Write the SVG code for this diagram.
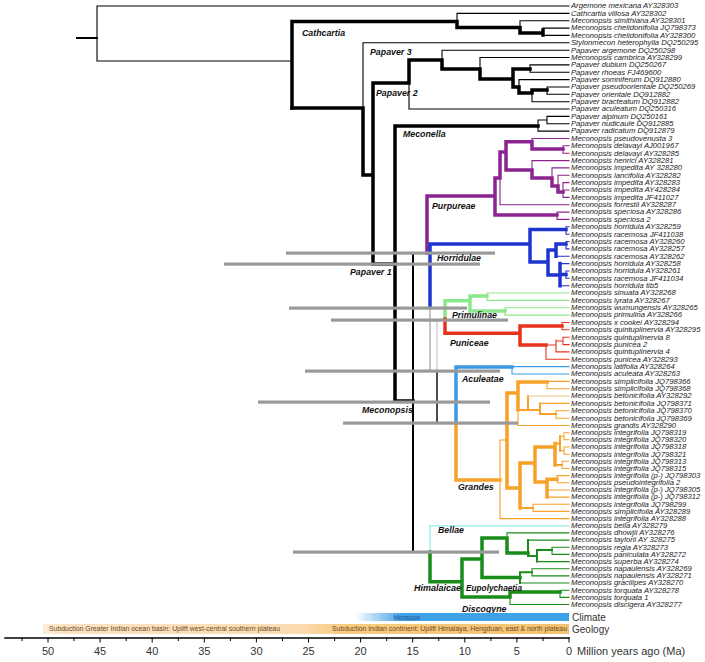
<svg xmlns="http://www.w3.org/2000/svg" width="705" height="662" viewBox="0 0 705 662">
<defs>
<style>
path{fill:none;stroke-linecap:square}
.k4{stroke:#000;stroke-width:3.5}
.k2{stroke:#000;stroke-width:2}
.k1{stroke:#000;stroke-width:1.1}
.p4{stroke:#8b2490;stroke-width:3.5}
.p1{stroke:#8b2490;stroke-width:1.1}
.b4{stroke:#1f35d0;stroke-width:3.5}
.b1{stroke:#1f35d0;stroke-width:1.1}
.g4{stroke:#8ce88c;stroke-width:3.5}
.g1{stroke:#8ce88c;stroke-width:1.1}
.r4{stroke:#e8321e;stroke-width:3.5}
.r1{stroke:#e8321e;stroke-width:1.1}
.a4{stroke:#3b9be6;stroke-width:3.5}
.a1{stroke:#3b9be6;stroke-width:1.1}
.o4{stroke:#f7a128;stroke-width:3.5}
.o2{stroke:#f7a128;stroke-width:2}
.o1{stroke:#f7a128;stroke-width:1.1}
.pe{stroke:#f3cf9c;stroke-width:1.1}
.c1{stroke:#a8f0f0;stroke-width:1.5}
.h4{stroke:#1a8c1a;stroke-width:3.5}
.h2{stroke:#1a8c1a;stroke-width:2}
.h1{stroke:#1a8c1a;stroke-width:1.1}
.bar{fill:#999}
.leaf{font-family:"Liberation Sans",Arial,sans-serif;font-style:italic;font-size:6.4px;fill:#222}
.clade{font-family:"Liberation Sans",Arial,sans-serif;font-style:italic;font-weight:bold;font-size:8.8px;fill:#111}
.ax{font-family:"Liberation Sans",Arial,sans-serif;font-size:10px;fill:#333}
.num{font-family:"Liberation Sans",Arial,sans-serif;font-size:11px;fill:#333}
.tick{stroke:#000;stroke-width:1}
</style>
<linearGradient id="clim" gradientUnits="userSpaceOnUse" x1="355" y1="0" x2="569" y2="0">
<stop offset="0" stop-color="#3fa2e8" stop-opacity="0"/>
<stop offset="0.22" stop-color="#3fa2e8" stop-opacity="1"/>
<stop offset="1" stop-color="#3fa2e8"/>
</linearGradient>
<linearGradient id="geo" gradientUnits="userSpaceOnUse" x1="43" y1="0" x2="569" y2="0">
<stop offset="0" stop-color="#fdeedd"/>
<stop offset="0.04" stop-color="#fce2c2"/>
<stop offset="0.48" stop-color="#fbdcb2"/>
<stop offset="0.58" stop-color="#f8c97f"/>
<stop offset="1" stop-color="#f6c270"/>
</linearGradient>
</defs>
<rect width="705" height="662" fill="#fff"/>

<g id="connectors">
<g id="root">
<path class="k2" d="M77 38H97"/>
<path class="k1" d="M97 6V61 M97 6H569 M97 61H292"/>
</g>
<g id="cathcartia-clade">
<path class="k4" d="M292 21.5V108 M292 21.5H457 M457 21.5V27.5 M457 27.5H520 M520 27.5V33 M520 33H543 M543 30V35"/>
<path class="k1" d="M457 13.4V21.5 M457 13.4H569 M520 20.7V27.5 M520 20.7H569 M543 28.1V35.4 M543 28.1H569 M543 35.4H569"/>
</g>
<g id="papaver-clade">
<path class="k4" d="M292 108H363 M363 108V175 M363 175H373 M373 83V264 M373 264H395 M373 83H409 M409 60V83 M409 60H442 M442 60V69 M442 69H480 M480 69V79 M480 79H513 M513 69V87 M513 69H530 M513 87H519 M519 87V93 M519 93H532 M532 90V93 M532 90H547"/>
<path class="k1" d="M363 42.8V108 M363 42.8H569 M409 83V109 M409 109H569 M442 50.2V60 M442 50.2H569 M480 57.5V69 M480 57.5H569 M530 64.9V72.2 M530 64.9H569 M530 72.2H569 M519 79.6V87 M519 79.6H569 M532 93V101.7 M532 101.7H569 M547 87V94.3 M547 87H569 M547 94.3H569"/>
</g>
<g id="meconella-clade">
<path class="k4" d="M395 126V401 M395 126H538 M395 401H413"/>
<path class="k1" d="M538 120V131.1 M538 131.1H569 M538 120H547 M547 116.4V123.8 M547 116.4H569 M547 123.8H569"/>
</g>
<g id="meconopsis-clade">
<path class="k2" d="M413 253V552 M413 253H427 M413 552H430"/>
<path d="M430 307V371 M430 371H437" stroke="#8a8a8a" stroke-width="1"/>
<path d="M437 321V372" stroke="#bbb" stroke-width="1"/>
<path d="M437 372V423 M437 423H456" stroke="#000" stroke-width="1.4"/>
</g>
<g id="purpureae">
<path class="p4" d="M427 196V253 M427 196H495 M495 178V215 M495 215H557 M495 178H500 M500 152V178 M500 152H506 M506 141.7V170 M506 141.7H532 M532 141.7V149 M532 149H563 M506 170H532 M532 170V178 M532 178H552 M552 178V186 M552 186H558 M558 186V192 M558 192H563"/>
<path class="p1" d="M500 178V204.7 M500 204.7H569 M557 212.1V219.4 M557 212.1H569 M557 219.4H569 M532 138.5V141.7 M532 138.5H569 M563 145.8V153.2 M563 145.8H569 M563 153.2H569 M532 160.6V170 M532 160.6H569 M552 167.9V178 M552 167.9H569 M558 175.3V186 M558 175.3H569 M563 182.6V197.4 M563 182.6H569 M563 190H569 M563 197.4H569"/>
</g>
<g id="horridulae">
<path class="b4" d="M430 244V307 M430 244H530 M530 229.5V262 M530 229.5H566 M530 262H548 M548 250V275 M548 250H556 M556 244V256.2 M556 244H566 M548 275H560 M560 263.6V285.7 M560 274.6H566"/>
<path class="b1" d="M566 226.8V234.2 M566 226.8H569 M566 234.2H569 M566 241.5V248.9 M566 241.5H569 M566 248.9H569 M556 256.2H569 M560 263.6H569 M566 271V278.3 M566 271H569 M566 278.3H569 M560 285.7H569"/>
</g>
<g id="primulinae">
<path class="g4" d="M445 300.7V319 M445 300.7H470 M470 296V311 M470 296H487 M470 311H505"/>
<path class="g1" d="M487 293V300.4 M487 293H569 M487 300.4H569 M505 307.8V315.1 M505 307.8H569 M505 315.1H569"/>
</g>
<g id="puniceae">
<path class="r4" d="M445 319V333.3 M445 333.3H520 M520 326V345 M520 326H562 M520 345H546"/>
<path class="r1" d="M562 322.5V329.8 M562 322.5H569 M562 329.8H569 M546 345V359.3 M546 359.3H569 M546 345H556 M556 340V351.9 M556 351.9H569 M556 341H563 M563 337.2V344.6 M563 337.2H569 M563 344.6H569"/>
</g>
<g id="aculeatae">
<path class="a4" d="M456 367V423 M456 367H512"/>
<path class="a1" d="M512 366.6V374 M512 366.6H569 M512 374H569"/>
</g>
<g id="grandes">
<path class="o4" d="M456 423V480 M456 480H500 M507 393V488 M507 393H518 M518 382V410 M518 382H547 M507 488H520 M520 463V508 M520 463H535 M535 447V482 M535 447H555 M555 443.5V464.9 M535 482H547 M547 479.2V497.1 M547 479.2H557"/>
<path class="o1" d="M500 440V518.6 M500 440H507 M500 518.6H569"/>
<path class="o2" d="M518 410H528 M528 396.1V410 M528 410H540 M540 403.4V414 M540 414H556 M520 508H533 M555 443.5H560 M560 436.3V450.6 M555 464.9H562"/>
<path class="pe" d="M528 396.1H569"/>
<path class="o1" d="M547 381.4V388.7 M547 381.4H569 M547 388.7H569 M540 403.4H569 M556 410.8V418.2 M556 410.8H569 M556 418.2H569 M518 410V425.5 M518 425.5H569 M560 436.3H564 M564 432.7V439.8 M564 432.7H569 M564 439.8H569 M560 450.6H564 M564 447V454.2 M564 447H569 M564 454.2H569 M562 461.3V468.5 M562 461.3H569 M562 468.5H569 M557 475.6V482.8 M557 475.6H569 M557 482.8H569 M547 490H569 M547 497.1H569 M533 504.3V511.4 M533 504.3H569 M533 511.4H569"/>
</g>
<g id="bellae">
<path class="c1" d="M430 525.8V552 M430 525.8H569"/>
</g>
<g id="himalaicae">
<path class="h4" d="M430 552V581.7 M430 581.7H462 M462 559V597 M462 559H482 M482 538V577.6 M482 538H507 M507 538V553 M507 553H528 M482 577.6H520 M462 597H510 M510 592V597 M510 592H560"/>
<path class="h2" d="M528 540.1V556 M528 556H537 M537 550V561.6 M537 550H552 M520 572.3V583 M520 572.3H532"/>
<path class="h1" d="M507 532.9V538 M507 532.9H569 M528 540.1H569 M552 547.2V554.4 M552 547.2H569 M552 554.4H569 M537 561.6H569 M532 568.7V575.9 M532 568.7H569 M532 575.9H569 M520 583H569 M560 590.2V597.4 M560 590.2H569 M560 597.4H569 M510 597V604.5 M510 604.5H569"/>
</g>
<g id="hpd-bars">
<rect class="bar" x="286" y="251.5" width="209" height="3.2"/>
<rect class="bar" x="224" y="262.5" width="256" height="3.2"/>
<rect class="bar" x="289" y="306.5" width="178" height="3.2"/>
<rect class="bar" x="331" y="318.5" width="177" height="3.2"/>
<rect class="bar" x="305" y="369.5" width="195" height="3.2"/>
<rect class="bar" x="258" y="400.5" width="232" height="3.2"/>
<rect class="bar" x="343" y="421.5" width="175" height="3.2"/>
<rect class="bar" x="293" y="550.5" width="206" height="3.2"/>
</g>
</g>

<g id="clade-labels" class="clade">
<text id="lb-cathcartia" x="302" y="36">Cathcartia</text>
<text id="lb-papaver3" x="370" y="55">Papaver 3</text>
<text id="lb-papaver2" x="376" y="96">Papaver 2</text>
<text id="lb-meconella" x="403" y="137">Meconella</text>
<text id="lb-papaver1" x="350" y="275">Papaver 1</text>
<text id="lb-meconopsis" x="362" y="413">Meconopsis</text>
<text id="lb-purpureae" x="432" y="209">Purpureae</text>
<text id="lb-horridulae" x="437" y="261">Horridulae</text>
<text id="lb-primulinae" x="452" y="318">Primulinae</text>
<text id="lb-puniceae" x="450" y="346">Puniceae</text>
<text id="lb-aculeatae" x="462" y="382">Aculeatae</text>
<text id="lb-grandes" x="458" y="490">Grandes</text>
<text id="lb-bellae" x="438" y="533">Bellae</text>
<text id="lb-himalaicae" x="414" y="591" textLength="47" lengthAdjust="spacingAndGlyphs">Himalaicae</text>
<text id="lb-eupolychaetia" x="466" y="591" textLength="56" lengthAdjust="spacingAndGlyphs">Eupolychaetia</text>
<text id="lb-discogyne" x="462" y="612">Discogyne</text>
</g>

<g id="leaves" class="leaf" transform="translate(571 0) scale(1.2 1)">
<text id="n0" x="0" y="8.4">Argemone mexicana AY328303</text>
<text id="n1" x="0" y="15.8">Cathcartia villosa AY328302</text>
<text id="n2" x="0" y="23.1">Meconopsis simithiana AY328301</text>
<text id="n3" x="0" y="30.5">Meconopsis chelidonifolia JQ798373</text>
<text id="n4" x="0" y="37.8">Meconopsis chelidonifolia AY328300</text>
<text id="n5" x="0" y="45.2">Stylonmecon heterophylla DQ250295</text>
<text id="n6" x="0" y="52.6">Papaver argemone DQ250298</text>
<text id="n7" x="0" y="59.9">Meconopsis cambrica AY328299</text>
<text id="n8" x="0" y="67.3">Papaver dubium DQ250267</text>
<text id="n9" x="0" y="74.6">Papaver rhoeas FJ469600</text>
<text id="n10" x="0" y="82">Papaver somniferum DQ912880</text>
<text id="n11" x="0" y="89.4">Papaver pseudoorientale DQ250269</text>
<text id="n12" x="0" y="96.7">Papaver orientale DQ912882</text>
<text id="n13" x="0" y="104.1">Papaver bracteatum DQ912882</text>
<text id="n14" x="0" y="111.4">Papaver aculeatum DQ250316</text>
<text id="n15" x="0" y="118.8">Papaver alpinum DQ250161</text>
<text id="n16" x="0" y="126.2">Papaver nudicaule DQ912885</text>
<text id="n17" x="0" y="133.5">Papaver radicatum DQ912879</text>
<text id="n18" x="0" y="140.9">Meconopsis pseudovenusta 3</text>
<text id="n19" x="0" y="148.2">Meconopsis delavayi AJ001967</text>
<text id="n20" x="0" y="155.6">Meconopsis delavayi AY328285</text>
<text id="n21" x="0" y="163">Meconopsis henrici AY328281</text>
<text id="n22" x="0" y="170.3">Meconopsis impedita AY 328280</text>
<text id="n23" x="0" y="177.7">Meconopsis lancifolia AY328282</text>
<text id="n24" x="0" y="185">Meconopsis impedita AY328283</text>
<text id="n25" x="0" y="192.4">Meconopsis impedita AY428284</text>
<text id="n26" x="0" y="199.8">Meconopsis impedita JF411027</text>
<text id="n27" x="0" y="207.1">Meconopsis forrestii AY328287</text>
<text id="n28" x="0" y="214.5">Meconopsis speciosa AY328286</text>
<text id="n29" x="0" y="221.8">Meconopsis speciosa 2</text>
<text id="n30" x="0" y="229.2">Meconopsis horridula AY328259</text>
<text id="n31" x="0" y="236.6">Meconopsis racemosa JF411038</text>
<text id="n32" x="0" y="243.9">Meconopsis racemosa AY328260</text>
<text id="n33" x="0" y="251.3">Meconopsis racemosa AY328257</text>
<text id="n34" x="0" y="258.6">Meconopsis racemosa AY328262</text>
<text id="n35" x="0" y="266">Meconopsis horridula AY328258</text>
<text id="n36" x="0" y="273.4">Meconopsis horridula AY328261</text>
<text id="n37" x="0" y="280.7">Meconopsis racemosa JF411034</text>
<text id="n38" x="0" y="288.1">Meconopsis horridula tib5</text>
<text id="n39" x="0" y="295.4">Meconopsis sinuata AY328268</text>
<text id="n40" x="0" y="302.8">Meconopsis lyrata AY328267</text>
<text id="n41" x="0" y="310.2">Meconopsis wumungensis AY328265</text>
<text id="n42" x="0" y="317.5">Meconopsis primulina AY328266</text>
<text id="n43" x="0" y="324.9">Meconopsis x cookei AY328294</text>
<text id="n44" x="0" y="332.2">Meconopsis quintuplinervia AY328295</text>
<text id="n45" x="0" y="339.6">Meconopsis quintuplinervia 8</text>
<text id="n46" x="0" y="347">Meconopsis punicea 2</text>
<text id="n47" x="0" y="354.3">Meconopsis quintuplinervia 4</text>
<text id="n48" x="0" y="361.7">Meconopsis punicea AY328293</text>
<text id="n49" x="0" y="369">Meconopsis latifolia AY328264</text>
<text id="n50" x="0" y="376.4">Meconopsis aculeata AY328263</text>
<text id="n51" x="0" y="383.8">Meconopsis simplicifolia JQ798366</text>
<text id="n52" x="0" y="391.1">Meconopsis simplicifolia JQ798368</text>
<text id="n53" x="0" y="398.5">Meconopsis betonicifolia AY328292</text>
<text id="n54" x="0" y="405.8">Meconopsis betonicifolia JQ798371</text>
<text id="n55" x="0" y="413.2">Meconopsis betonicifolia JQ798370</text>
<text id="n56" x="0" y="420.6">Meconopsis betonicifolia JQ798369</text>
<text id="n57" x="0" y="427.9">Meconopsis grandis AY328290</text>
<text id="n58" x="0" y="435.1">Meconopsis integrifolia JQ798319</text>
<text id="n59" x="0" y="442.2">Meconopsis integrifolia JQ798320</text>
<text id="n60" x="0" y="449.4">Meconopsis integrifolia JQ798318</text>
<text id="n61" x="0" y="456.6">Meconopsis integrifolia JQ798321</text>
<text id="n62" x="0" y="463.7">Meconopsis integrifolia JQ798313</text>
<text id="n63" x="0" y="470.9">Meconopsis integrifolia JQ798315</text>
<text id="n64" x="0" y="478">Meconopsis integrifolia (p-) JQ798303</text>
<text id="n65" x="0" y="485.2">Meconopsis pseudointegrifolia 2</text>
<text id="n66" x="0" y="492.4">Meconopsis integrifolia (p-) JQ798305</text>
<text id="n67" x="0" y="499.5">Meconopsis integrifolia (p-)  JQ798312</text>
<text id="n68" x="0" y="506.7">Meconopsis integrifolia JQ798299</text>
<text id="n69" x="0" y="513.8">Meconopsis simplicifolia AY328289</text>
<text id="n70" x="0" y="521">Meconopsis integrifolia AY328288</text>
<text id="n71" x="0" y="528.2">Meconopsis bella AY328279</text>
<text id="n72" x="0" y="535.3">Meconopsis dhowjii AY328276</text>
<text id="n73" x="0" y="542.5">Meconopsis taylorii AY 328275</text>
<text id="n74" x="0" y="549.6">Meconopsis regia AY328273</text>
<text id="n75" x="0" y="556.8">Meconopsis paniculata AY328272</text>
<text id="n76" x="0" y="564">Meconopsis superba AY328274</text>
<text id="n77" x="0" y="571.1">Meconopsis napaulensis AY328269</text>
<text id="n78" x="0" y="578.3">Meconopsis napaulensis AY328271</text>
<text id="n79" x="0" y="585.4">Meconopsis gracilipes AY328270</text>
<text id="n80" x="0" y="592.6">Meconopsis torquata AY328278</text>
<text id="n81" x="0" y="599.8">Meconopsis torquata 1</text>
<text id="n82" x="0" y="606.9">Meconopsis discigera AY328277</text>
</g>

<g id="climate">
<rect x="355" y="613" width="214" height="8" fill="url(#clim)"/>
<text x="407" y="619.5" text-anchor="middle" font-family="Liberation Sans, Arial, sans-serif" font-size="6.5" fill="#1d4f8f">Monsoon</text>
<text class="ax" x="572" y="621">Climate</text>
</g>
<g id="geology">
<rect x="43" y="624" width="526" height="10" fill="url(#geo)"/>
<text x="49" y="631.3" font-family="Liberation Sans, Arial, sans-serif" font-size="6.5" fill="#6b4a22" textLength="231" lengthAdjust="spacingAndGlyphs">Subduction Greater Indian ocean basin: Uplift west-central southern plateau</text>
<text x="332" y="631.3" font-family="Liberation Sans, Arial, sans-serif" font-size="6.5" fill="#6b4a22" textLength="235" lengthAdjust="spacingAndGlyphs">Subduction Indian continent: Uplift Himalaya, Hengduan, east &amp; north plateau</text>
<text class="ax" x="572" y="633">Geology</text>
</g>
<g id="axis">
<path d="M5 638H569" stroke="#000" stroke-width="1.5"/>
<path class="tick" d="M48 638v4 M100.1 638v4 M152.2 638v4 M204.3 638v4 M256.4 638v4 M308.5 638v4 M360.6 638v4 M412.7 638v4 M464.8 638v4 M516.9 638v4 M569 638v4 M22 638v2.5 M74 638v2.5 M126.2 638v2.5 M178.3 638v2.5 M230.4 638v2.5 M282.5 638v2.5 M334.6 638v2.5 M386.7 638v2.5 M438.8 638v2.5 M490.9 638v2.5 M543 638v2.5"/>
<g class="num" text-anchor="middle">
<text x="48" y="655">50</text>
<text x="100.1" y="655">45</text>
<text x="152.2" y="655">40</text>
<text x="204.3" y="655">35</text>
<text x="256.4" y="655">30</text>
<text x="308.5" y="655">25</text>
<text x="360.6" y="655">20</text>
<text x="412.7" y="655">15</text>
<text x="464.8" y="655">10</text>
<text x="516.9" y="655">5</text>
<text x="569" y="655">0</text>
</g>
<text class="num" x="577" y="655">Million years ago (Ma)</text>
</g>
</svg>
